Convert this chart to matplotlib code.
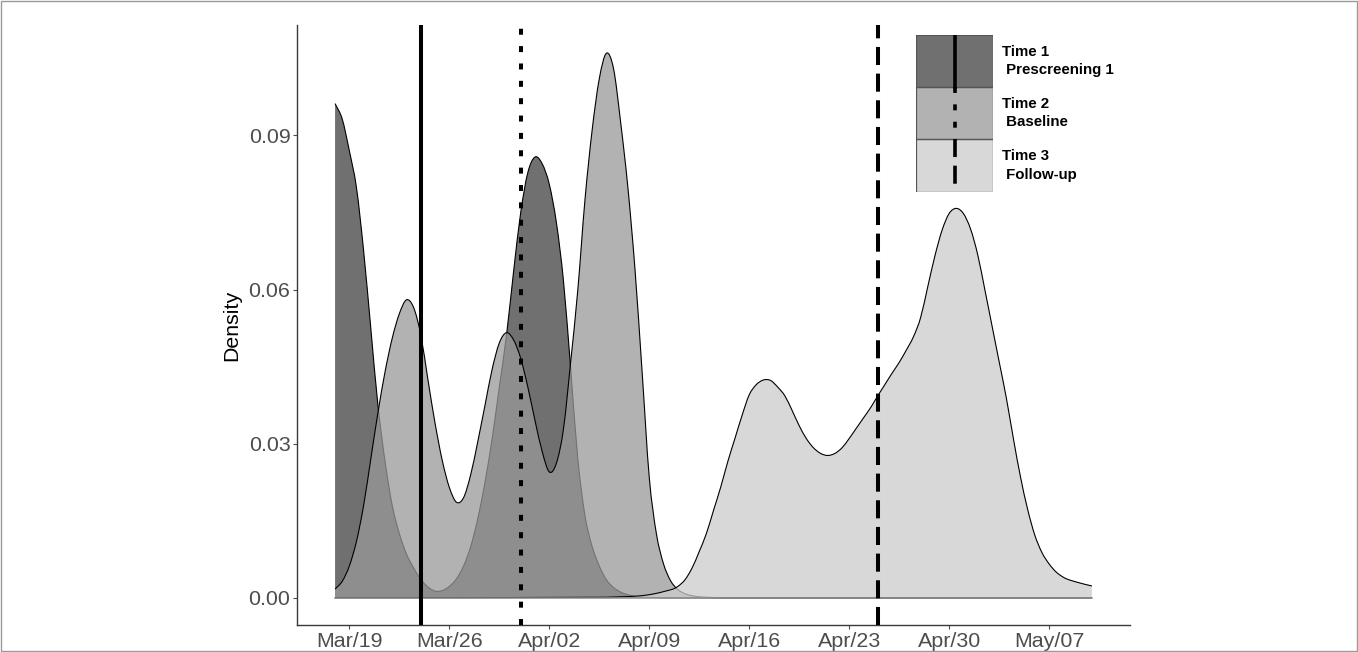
import numpy as np
import matplotlib
matplotlib.use('Agg')
import matplotlib.pyplot as plt
import matplotlib.dates as mdates
from matplotlib.patches import Rectangle, PathPatch
from matplotlib.path import Path

plt.rcParams['font.family'] = ['Liberation Sans', 'DejaVu Sans']
plt.rcParams['lines.scale_dashes'] = False

base_date = np.datetime64('2020-03-19T00')  # day offset 0 = Mar/19

# ---- data (day offsets from Mar/19, density values) ----
t1_days = [-1, -0.5, 0, 0.5, 1, 1.5, 2, 2.5, 3, 3.5, 4, 4.5, 5, 5.5, 6, 6.5, 7, 7.5, 8, 8.5,
           9, 9.5, 10, 10.5, 11, 11.5, 12, 12.5, 13, 13.5, 14, 14.5, 15, 15.5, 16, 16.5, 17, 17.5,
           18, 18.5, 19, 19.5, 20, 21, 22, 52]
t1_density = [0.0962, 0.0932, 0.0870, 0.0798, 0.0675, 0.0525, 0.0375, 0.0265, 0.0180, 0.0125,
              0.0085, 0.0058, 0.0036, 0.0021, 0.0013, 0.0014, 0.0022, 0.0037, 0.0062, 0.0100,
              0.0155, 0.0225, 0.0310, 0.0410, 0.0510, 0.0635, 0.0750, 0.0828, 0.0858, 0.0845,
              0.0805, 0.0730, 0.0615, 0.0445, 0.0270, 0.0160, 0.0100, 0.0062, 0.0035, 0.0020,
              0.0011, 0.0006, 0.0003, 0.0001, 0.0, 0.0]

t2_days = [-1, -0.5, 0, 0.5, 1, 1.5, 2, 2.5, 3, 3.5, 4, 4.5, 5, 5.5, 6, 6.5, 7, 7.5, 8, 8.5,
           9, 9.5, 10, 10.5, 11, 11.5, 12, 12.5, 13, 13.5, 14, 14.5, 15, 15.5, 16, 16.5, 17, 17.5,
           18, 18.5, 19, 19.5, 20, 20.5, 21, 21.5, 22, 22.5, 23, 23.5, 24, 24.5, 25, 26, 52]
t2_density = [0.0017, 0.0032, 0.0062, 0.0110, 0.0180, 0.0270, 0.0360, 0.0440, 0.0505, 0.0553,
              0.0580, 0.0565, 0.0512, 0.0425, 0.0340, 0.0268, 0.0215, 0.0186, 0.0195, 0.0240,
              0.0305, 0.0375, 0.0445, 0.0496, 0.0516, 0.0502, 0.0466, 0.0410, 0.0345, 0.0285,
              0.0245, 0.0262, 0.0330, 0.0460, 0.0600, 0.0775, 0.0910, 0.1010, 0.1060, 0.1030,
              0.0925, 0.0800, 0.0640, 0.0440, 0.0235, 0.0125, 0.0066, 0.0033, 0.0016, 0.0008,
              0.0004, 0.0002, 0.0001, 0.0, 0.0]

t3_days = [-1, 18, 19, 20, 21, 22, 23, 23.5, 24, 24.5, 25, 25.5, 26, 26.5, 27, 27.5, 28, 28.5,
           29, 29.5, 30, 30.5, 31, 31.5, 32, 32.5, 33, 33.5, 34, 34.5, 35, 35.5, 36, 36.5, 37,
           37.5, 38, 38.5, 39, 39.5, 40, 40.5, 41, 41.5, 42, 42.5, 43, 43.5, 44, 44.5, 45, 45.5,
           46, 46.5, 47, 47.5, 48, 48.5, 49, 49.5, 50, 51, 52]
t3_density = [0.0, 0.0001, 0.0002, 0.0003, 0.0006, 0.0012, 0.0022, 0.0035, 0.0058, 0.0090,
              0.0125, 0.0170, 0.0215, 0.0265, 0.0310, 0.0355, 0.0395, 0.0415, 0.0424, 0.0423,
              0.0410, 0.0393, 0.0365, 0.0335, 0.0310, 0.0292, 0.0281, 0.0277, 0.0281, 0.0292,
              0.0310, 0.0330, 0.0350, 0.0370, 0.0393, 0.0415, 0.0437, 0.0458, 0.0482, 0.0508,
              0.0545, 0.0605, 0.0665, 0.0715, 0.0748, 0.0758, 0.0748, 0.0718, 0.0668, 0.0600,
              0.0530, 0.0460, 0.0390, 0.0310, 0.0235, 0.0172, 0.0122, 0.0088, 0.0066, 0.0050,
              0.0040, 0.0030, 0.0023]

series_labels = ['Time 1\n Prescreening 1', 'Time 2\n Baseline', 'Time 3\n Follow-up']
event_dates = ['2020-03-24', '2020-03-31', '2020-04-25']
tick_dates = ['2020-03-19', '2020-03-26', '2020-04-02', '2020-04-09',
              '2020-04-16', '2020-04-23', '2020-04-30', '2020-05-07']
y_ticks = [0.00, 0.03, 0.06, 0.09]

# ---- styles ----
fill_colors = ['#404040', '#999999', '#cccccc']
fill_alpha = 0.75
line_styles = ['-', (0, (4.3, 8.2)), (0, (13.0, 6.2))]


def to_dates(days):
    hours = np.round(np.asarray(days, dtype=float) * 24).astype(int)
    return base_date + hours.astype('timedelta64[h]')


def smooth_path_codes(x, y):
    """Cubic Bezier segments through the read points (drawing only)."""
    x = np.asarray(x, float)
    y = np.asarray(y, float)
    h = np.diff(x)
    s = np.diff(y) / h
    m = np.empty_like(y)
    m[0], m[-1] = s[0], s[-1]
    m[1:-1] = (s[:-1] * h[1:] + s[1:] * h[:-1]) / (h[:-1] + h[1:])
    verts = [(x[0], y[0])]
    codes = [Path.MOVETO]
    for i in range(len(x) - 1):
        dx = h[i] / 3.0
        c1 = (x[i] + dx, max(0.0, y[i] + m[i] * dx))
        c2 = (x[i + 1] - dx, max(0.0, y[i + 1] - m[i + 1] * dx))
        verts += [c1, c2, (x[i + 1], y[i + 1])]
        codes += [Path.CURVE4] * 3
    return verts, codes


W, H = 1358, 652
fig = plt.figure(figsize=(W / 100, H / 100), dpi=100)
ax = fig.add_axes([297 / W, (H - 625) / H, 833 / W, 600 / H])
ax.set_xlim(to_dates([-3.65])[0], to_dates([54.65])[0])
ax.set_ylim(-0.0053, 0.1115)

series = [(t1_days, t1_density), (t2_days, t2_density), (t3_days, t3_density)]
for k, ((days, dens), col) in enumerate(zip(series, fill_colors)):
    xn = mdates.date2num(to_dates(days))
    verts, codes = smooth_path_codes(xn, dens)
    fverts = [(xn[0], 0.0)] + verts + [(xn[-1], 0.0), (xn[0], 0.0)]
    fcodes = [Path.MOVETO] + [Path.LINETO] + codes[1:] + [Path.LINETO, Path.CLOSEPOLY]
    ax.add_patch(PathPatch(Path(fverts, fcodes), facecolor=col, alpha=fill_alpha,
                           edgecolor='none', lw=0, zorder=2 + 0.1 * k))
    ax.add_patch(PathPatch(Path(verts, codes), facecolor='none', edgecolor='black',
                           lw=0.8, zorder=2.05 + 0.1 * k))

# baseline edge of the areas
all_days = t1_days + t2_days + t3_days
base_x = to_dates([min(all_days), max(all_days)])
ax.plot(base_x, [0, 0], color='#8c8c8c', lw=1.1, zorder=3)

for d, ls in zip(event_dates, line_styles):
    ax.axvline(np.datetime64(d + 'T00'), color='black', lw=2.9, linestyle=ls, zorder=4)

ax.set_xlim(to_dates([-3.65])[0], to_dates([54.65])[0])
ax.set_ylim(-0.0053, 0.1115)

ax.set_xticks(np.array(tick_dates, dtype='datetime64[h]'))
ax.xaxis.set_major_formatter(mdates.DateFormatter('%b/%d'))
ax.set_yticks(y_ticks)
ax.set_yticklabels([f'{v:.2f}' for v in y_ticks])

for s in ['top', 'right']:
    ax.spines[s].set_visible(False)
for s in ['left', 'bottom']:
    ax.spines[s].set_color('#3a3a3a')
    ax.spines[s].set_linewidth(1.0)

ax.tick_params(axis='both', colors='#4d4d4d', labelsize=15.4, length=2.9, width=0.8, pad=1.8)
ax.set_ylabel('Density', fontsize=15.4, color='black', labelpad=5)

# ---- legend (drawn manually: vertical line keys) ----
lx0, ly_top, kw, kh = 916, 35, 77.3, 52.2
lax = fig.add_axes([lx0 / W, (H - (ly_top + 3 * kh)) / H, kw / W, 3 * kh / H])
lax.set_xlim(0, 1)
lax.set_ylim(0, 3)
lax.axis('off')
for i, (col, ls, lab) in enumerate(zip(fill_colors, line_styles, series_labels)):
    y0 = 2 - i
    lax.add_patch(Rectangle((0, y0), 1, 1, facecolor=col, alpha=fill_alpha,
                            edgecolor='none', zorder=1))
    lax.add_patch(Rectangle((0, y0), 1, 1, facecolor='none', edgecolor='#555555',
                            lw=0.9, zorder=2))
    lax.plot([0.5, 0.5], [y0 + 1, y0], color='black', lw=2.6, linestyle=ls, zorder=3)
    fig.text(1001.5 / W, (H - (ly_top + (i + 0.5) * kh)) / H, lab, ha='left', va='center',
             fontsize=10.8, fontweight='bold', linespacing=1.38, color='black')

fig.add_artist(Rectangle((0.0005, 0.0008), 0.999, 0.998, transform=fig.transFigure,
                         facecolor='none', edgecolor='#9a9a9a', lw=1.0))

fig.savefig('out.png', dpi=100)
